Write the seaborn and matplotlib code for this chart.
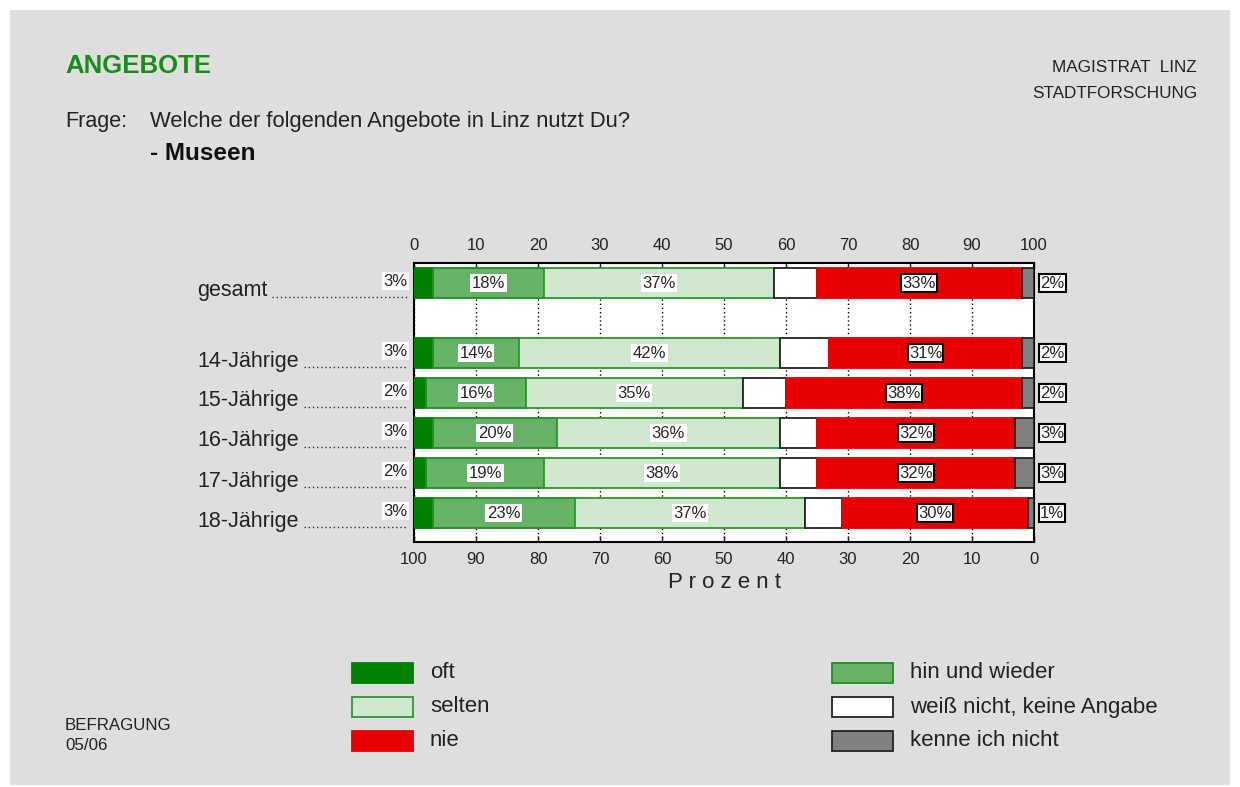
import numpy as np
import pandas as pd
import matplotlib
matplotlib.use("Agg")
import matplotlib.pyplot as plt
from matplotlib.patches import Rectangle
from matplotlib.lines import Line2D
import seaborn as sns

# data
groups = ["gesamt", "14-Jährige", "15-Jährige", "16-Jährige", "17-Jährige", "18-Jährige"]
oft = [3, 3, 2, 3, 2, 3]
hin = [18, 14, 16, 20, 19, 23]
selten = [37, 42, 35, 36, 38, 37]
weiss = [7, 8, 7, 6, 6, 6]
nie = [33, 31, 38, 32, 32, 30]
kenne = [2, 2, 2, 3, 3, 1]
legend_names = ["oft", "hin und wieder", "selten", "weiß nicht, keine Angabe", "nie", "kenne ich nicht"]

# row positions (gap after gesamt)
row_pos = [0, 1.75, 2.75, 3.75, 4.75, 5.75]

sns.set_style("white")
plt.rcParams["font.family"] = ["Liberation Sans", "DejaVu Sans"]

W, H = 1240, 787
fig = plt.figure(figsize=(W / 100, H / 100), dpi=100, facecolor="white")
fig.add_artist(Rectangle((10 / W, 2 / H), 1220 / W, 775 / H, transform=fig.transFigure,
                         facecolor="#dedede", edgecolor="none", zorder=-10))

ax = fig.add_axes([414 / W, 1 - 542 / H, 620 / W, 279 / H])
ax.set_facecolor("white")

segments = [
    (oft, "#008000", "#008000"),
    (hin, "#66b266", "#1f8f1f"),
    (selten, "#cfe6cf", "#2e962e"),
    (weiss, "#ffffff", "#222222"),
    (nie, "#e60000", "#e60000"),
    (kenne, "#808080", "#222222"),
]

seg_vals = np.array([s[0] for s in segments], dtype=float)
lefts_all = np.vstack([np.zeros(len(groups)), np.cumsum(seg_vals, axis=0)[:-1]])

for (vals, fc, ec), lefts in zip(segments, lefts_all):
    df = pd.DataFrame({"pos": row_pos, "val": vals})
    sns.barplot(data=df, x="val", y="pos", orient="y", native_scale=True, width=0.75,
                left=lefts, color=fc, saturation=1, edgecolor=ec, linewidth=1.3,
                errorbar=None, ax=ax, zorder=3)

ax.set_xlim(0, 100)
ax.set_ylim(6.475, -0.5)
ax.set_yticks([])
ax.set_xlabel("")
ax.set_ylabel("")
ax.set_xticks(range(0, 101, 10))
ax.xaxis.tick_top()
ax.tick_params(axis="x", which="both", top=True, bottom=True, labeltop=True, labelbottom=False,
               direction="in", length=4, width=1, pad=7, labelsize=12, colors="#222222")
ax.grid(axis="x", linestyle=(0, (1, 2)), color="black", linewidth=1)
ax.set_axisbelow(True)
for sp in ax.spines.values():
    sp.set_color("black")
    sp.set_linewidth(1.5)

sec = ax.secondary_xaxis("bottom", functions=(lambda x: 100 - x, lambda x: 100 - x))
sec.set_xticks(range(0, 101, 10))
sec.tick_params(direction="in", length=4, pad=7, labelsize=12, colors="#222222")
sec.spines["bottom"].set_visible(False)
sec.set_xlabel("P r o z e n t", fontsize=16, labelpad=4, color="#222222")

# labels in bars
lab_fs = 12
for i, y in enumerate(row_pos):
    l_hin = lefts_all[1][i]
    ax.text(l_hin + hin[i] / 2, y, f"{hin[i]}%", ha="center", va="center", fontsize=lab_fs,
            bbox=dict(facecolor="white", edgecolor="none", pad=1.2), zorder=5)
    l_sel = lefts_all[2][i]
    ax.text(l_sel + selten[i] / 2, y, f"{selten[i]}%", ha="center", va="center", fontsize=lab_fs,
            bbox=dict(facecolor="white", edgecolor="none", pad=1.2), zorder=5)
    l_nie = lefts_all[4][i]
    ax.text(l_nie + nie[i] / 2, y, f"{nie[i]}%", ha="center", va="center", fontsize=lab_fs,
            bbox=dict(facecolor="white", edgecolor="black", linewidth=1.5, pad=0.8), zorder=5)
    ax.text(-1.0, y - 0.05, f"{oft[i]}%", ha="right", va="center", fontsize=lab_fs, clip_on=False,
            bbox=dict(facecolor="white", edgecolor="none", pad=1.2), zorder=5)
    ax.text(101.0, y, f"{kenne[i]}%", ha="left", va="center", fontsize=lab_fs, clip_on=False,
            bbox=dict(facecolor="white", edgecolor="black", linewidth=1.5, pad=0.8), zorder=5)

# row labels with dotted leaders
row_px = [291, 361, 401, 441, 481, 521]
row_texts = []
for name, py in zip(groups, row_px):
    row_texts.append(fig.text(197 / W, 1 - py / H, name, ha="left", va="center",
                              fontsize=15.5, color="#222222"))
fig.canvas.draw()
renderer = fig.canvas.get_renderer()
for t, py in zip(row_texts, row_px):
    bb = t.get_window_extent(renderer)
    x0 = (bb.x1 + 5) / W
    yy = 1 - (py + 6) / H
    fig.add_artist(Line2D([x0, 407 / W], [yy, yy], transform=fig.transFigure,
                          color="#333333", linewidth=1, linestyle=(0, (1, 2))))

# header
fig.text(65 / W, 1 - 66 / H, "ANGEBOTE", fontsize=18.5, fontweight="bold", color="#1a8c1a",
         ha="left", va="center")
fig.text(1197 / W, 1 - 68 / H, "MAGISTRAT  LINZ", fontsize=12.3, ha="right", va="center", color="#222222")
fig.text(1197 / W, 1 - 93 / H, "STADTFORSCHUNG", fontsize=12.3, ha="right", va="center", color="#222222")
fig.text(65 / W, 1 - 121 / H, "Frage:", fontsize=15.5, ha="left", va="center", color="#222222")
fig.text(150 / W, 1 - 121 / H, "Welche der folgenden Angebote in Linz nutzt Du?", fontsize=15.8,
         ha="left", va="center", color="#222222")
fig.text(150 / W, 1 - 153 / H, "- Museen", fontsize=17.5, fontweight="bold", ha="left", va="center",
         color="#111111")

# legend
leg_x = [352, 352, 352, 832, 832, 832]
leg_y = [673, 707, 741, 673, 707, 741]
leg_order = [0, 2, 4, 1, 3, 5]
for k, idx in enumerate(leg_order):
    _, fc, ec = segments[idx]
    px, py = leg_x[k], leg_y[k]
    fig.add_artist(Rectangle((px / W, 1 - (py + 10) / H), 61 / W, 20 / H, transform=fig.transFigure,
                             facecolor=fc, edgecolor=ec, linewidth=1.3))
    fig.text((px + 78) / W, 1 - py / H, legend_names[idx], fontsize=16, ha="left", va="center",
             color="#222222")

fig.text(65 / W, 1 - 725 / H, "BEFRAGUNG", fontsize=12.2, ha="left", va="center", color="#222222")
fig.text(65 / W, 1 - 746 / H, "05/06", fontsize=12.2, ha="left", va="center", color="#222222")

fig.savefig("out.png", dpi=100, facecolor=fig.get_facecolor())
